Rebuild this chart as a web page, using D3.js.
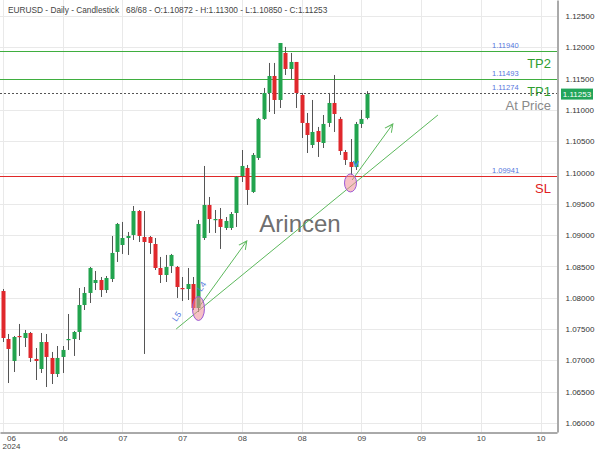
<!DOCTYPE html>
<html>
<head>
<meta charset="utf-8">
<script src="https://cdn.jsdelivr.net/npm/d3@7"></script>
<style>
  body{margin:0;background:#fff}
  text{font-family:"Liberation Sans",Arial,sans-serif}
</style>
</head>
<body>
<svg id="chart" width="600" height="450"></svg>
<script>
// EURUSD daily, 68 candles
opens = [1.08108,1.07342,1.06991,1.07390,1.07358,1.07438,1.07023,1.06863,1.07294,1.07039,
  1.06783,1.07055,1.07326,1.07342,1.07454,1.07885,1.08077,1.08236,1.08284,1.08124,
  1.08300,1.08732,1.08843,1.08955,1.09003,1.09386,1.08971,1.08971,1.08859,1.08476,
  1.08364,1.08508,1.08492,1.08156,1.08140,1.08220,1.07837,1.08955,1.09482,1.09243,
  1.09258,1.09115,1.09115,1.09354,1.09945,1.10073,1.09690,1.10233,1.10856,1.11271,
  1.11542,1.11159,1.11910,1.11654,1.11766,1.11239,1.10792,1.10440,1.10664,1.10472,
  1.10792,1.11111,1.10856,1.10328,1.10169,1.10089,1.10776,1.10872]
highs = [1.08140,1.07422,1.07390,1.07582,1.07486,1.07454,1.07198,1.07438,1.07422,1.07135,
  1.07230,1.07230,1.07741,1.07470,1.08156,1.08172,1.08492,1.08428,1.08332,1.08348,
  1.08987,1.09195,1.09211,1.09051,1.09466,1.09402,1.09386,1.08987,1.08955,1.08652,
  1.08684,1.08700,1.08508,1.08332,1.08476,1.08332,1.09243,1.10105,1.09610,1.09402,
  1.09434,1.09290,1.09370,1.09945,1.10360,1.10121,1.10312,1.10872,1.11351,1.11750,
  1.11750,1.12069,1.12006,1.11910,1.11766,1.11271,1.10951,1.11159,1.10728,1.10919,
  1.11271,1.11558,1.10888,1.10360,1.10536,1.10808,1.10999,1.11300]
lows = [1.07294,1.06639,1.06815,1.07071,1.07214,1.06975,1.06687,1.06799,1.06575,1.06623,
  1.06735,1.06799,1.07167,1.07071,1.07326,1.07805,1.07917,1.08124,1.08013,1.08077,
  1.08252,1.08572,1.08700,1.08684,1.08923,1.08891,1.07103,1.08700,1.08444,1.08236,
  1.08252,1.08396,1.07997,1.07949,1.07965,1.07805,1.07773,1.08923,1.09035,1.09035,
  1.08780,1.09083,1.09083,1.09131,1.09849,1.09482,1.09674,1.10201,1.10840,1.10967,
  1.10935,1.11031,1.11558,1.11494,1.11031,1.10552,1.10312,1.10392,1.10249,1.10392,
  1.10728,1.10648,1.10281,1.10121,1.09961,1.10041,1.10712,1.10850]
closes = [1.07358,1.07183,1.07374,1.07374,1.07438,1.07039,1.06991,1.07294,1.07055,1.06783,
  1.07039,1.07167,1.07342,1.07454,1.07885,1.08077,1.08476,1.08284,1.08124,1.08316,
  1.08716,1.09179,1.08955,1.08987,1.09386,1.08987,1.08891,1.08875,1.08476,1.08364,
  1.08492,1.08684,1.08172,1.08140,1.08220,1.07837,1.09179,1.09482,1.09258,1.09258,
  1.09131,1.09227,1.09338,1.09929,1.10105,1.09722,1.10281,1.10856,1.11271,1.11542,
  1.11159,1.12069,1.11654,1.11766,1.11271,1.10792,1.10600,1.10648,1.10488,1.10776,
  1.11111,1.10935,1.10344,1.10201,1.10089,1.10776,1.10856,1.11253]

yTicks = [1.06,1.065,1.07,1.075,1.08,1.085,1.09,1.095,1.10,1.105,1.11,1.115,1.12,1.125]
xTickIdx = [0,11,22,33,44,55,66,77,88,99]
xTickLabels = ["06","06","07","07","08","08","09","09","10","10"]

levelValues = [1.11940, 1.11493, 1.11274, 1.09941]
levelNames = ["TP2", "TP1", "At Price", "SL"]

// annotations, in candle index / price
trendLine = [[31.9, 1.07502], [80.1, 1.10919]]
arrows = [[[36.1, 1.07853], [44.9, 1.08907]], [[64.3, 1.09881], [71.8, 1.10776]]]
circles = [[36, 1.07829, 6, 12], [64, 1.09834, 6, 9]]
waveLabels = [["L5", 32.4, 1.07677], ["L4", 37.0, 1.08156]]

svg = d3.select("#chart")
W = 557, H = 432

x = d3.scaleLinear().domain([-0.55, 102.03]).range([0, W])
y = d3.scaleLinear().domain([1.058568, 1.127555]).range([H, 0])

candles = opens.map((o,i) => ({i:i, o:o, h:highs[i], l:lows[i], c:closes[i]}))

/* grid */
grid = svg.append("g")
grid.selectAll(".hg").data(yTicks).enter().append("line")
  .attr("x1",0).attr("x2",W)
  .attr("y1",d => Math.round(y(d))+0.5).attr("y2",d => Math.round(y(d))+0.5)
  .attr("stroke","#e9e9e9")
grid.selectAll(".vg").data(xTickIdx).enter().append("line")
  .attr("x1",d => Math.round(x(d))+0.5).attr("x2",d => Math.round(x(d))+0.5)
  .attr("y1",0).attr("y2",H)
  .attr("stroke","#e9e9e9")

/* header */
svg.append("text").attr("x",8).attr("y",13)
  .attr("font-size","8.3px").attr("fill","#444")
  .attr("xml:space","preserve")
  .text("EURUSD - Daily - Candlestick   68/68 - O:1.10872 - H:1.11300 - L:1.10850 - C:1.11253")

/* watermark */
svg.append("text").attr("x",300).attr("y",232)
  .attr("text-anchor","middle").attr("font-size","24px")
  .attr("fill","#6f6f6f").text("Arincen")

/* level lines */
levelColor = ["#3fae3f","#3fae3f","#555","#e02828"]
nameColor = ["#2f9e2f","#2f9e2f","#8a8a8a","#e02020"]
levels = svg.append("g")
levelValues.forEach(function(v,k){
  yy = Math.round(y(v))+0.5
  ln = levels.append("line").attr("x1",0).attr("x2",W).attr("y1",yy).attr("y2",yy)
    .attr("stroke",levelColor[k]).attr("stroke-width",1)
  if(levelNames[k]=="At Price") ln.attr("stroke-dasharray","2,2")
  levels.append("text").attr("x",492).attr("y",yy-3.5)
    .attr("font-size","7.5px").attr("fill","#5577dd").text(v.toFixed(5))
  levels.append("text").attr("x",551).attr("y",yy+16)
    .attr("text-anchor","end").attr("font-size","13px")
    .attr("fill",nameColor[k]).text(levelNames[k])
})

/* candles */
cg = svg.append("g")
cg.selectAll(".wick").data(candles).enter().append("line")
  .attr("x1",d => Math.round(x(d.i))+0.5).attr("x2",d => Math.round(x(d.i))+0.5)
  .attr("y1",d => y(d.h)).attr("y2",d => y(d.l))
  .attr("stroke","#555").attr("stroke-width",1)
cg.selectAll(".body").data(candles).enter().append("rect")
  .attr("x",d => Math.round(x(d.i))-1.5)
  .attr("width",4)
  .attr("y",d => y(Math.max(d.o,d.c)))
  .attr("height",d => Math.max(1.2, Math.abs(y(d.o)-y(d.c))))
  .attr("fill",d => d.c >= d.o ? "#22a44e" : "#e0282c")

/* trend line + arrows */
svg.append("defs").append("marker").attr("id","ah")
  .attr("markerUnits","userSpaceOnUse").attr("markerWidth",12).attr("markerHeight",12)
  .attr("refX",9).attr("refY",5).attr("orient","auto")
  .append("path").attr("d","M1,1L9,5L1,9").attr("fill","none")
  .attr("stroke","#5cb85c").attr("stroke-width",1)

line = d3.line().x(d => x(d[0])).y(d => y(d[1]))
svg.append("path").attr("d",line(trendLine)).attr("fill","none")
  .attr("stroke","#5cb85c").attr("stroke-width",1)
arrows.forEach(function(a){
  svg.append("path").attr("d",line(a)).attr("fill","none")
    .attr("stroke","#5cb85c").attr("stroke-width",1).attr("marker-end","url(#ah)")
})

/* circles at the wave points */
svg.selectAll(".pt").data(circles).enter().append("ellipse")
  .attr("cx",d => x(d[0])).attr("cy",d => y(d[1]))
  .attr("rx",d => d[2]).attr("ry",d => d[3])
  .attr("fill","rgba(240,140,150,0.55)").attr("stroke","#9b59d6").attr("stroke-width",1)

waveLabels.forEach(function(w){
  svg.append("text").attr("transform","translate("+x(w[1])+","+y(w[2])+") rotate(-55)")
    .attr("text-anchor","middle").attr("font-size","8.5px").attr("fill","#5577dd").text(w[0])
})

// little blue marker under candle 66
mx = x(65), my = y(lows[65])
svg.append("path").attr("d","M"+(mx-2.5)+","+(my-9)+"L"+mx+","+(my-4)+"L"+(mx+2.5)+","+(my-9))
  .attr("fill","none").attr("stroke","#3b8fe0").attr("stroke-width",1.5)

/* axes */
yAxis = d3.axisRight(y).tickValues(yTicks).tickSize(0).tickPadding(8)
  .tickFormat(d3.format(".5f"))
ya = svg.append("g").attr("transform","translate("+(W+0.5)+",0)").call(yAxis)
ya.select(".domain").attr("stroke","#555")
ya.selectAll("text").attr("font-size","8px").attr("fill","#333")
  .attr("font-family","Liberation Sans, Arial, sans-serif")

xAxis = d3.axisBottom(x).tickValues(xTickIdx).tickSize(0).tickSizeOuter(0).tickPadding(3)
  .tickFormat((d,i) => xTickLabels[i])
xa = svg.append("g").attr("transform","translate(0,"+(H+0.5)+")").call(xAxis)
xa.select(".domain").attr("stroke","#555")
xa.selectAll("text").attr("font-size","8px").attr("fill","#444")
  .attr("font-family","Liberation Sans, Arial, sans-serif")
first = xa.select(".tick text").attr("dx",8)
first.append("tspan").attr("x",0).attr("dx",8).attr("dy","0.95em").text("2024")

/* last price tag */
lastY = y(closes[closes.length-1])
svg.append("rect").attr("x",561).attr("y",lastY-5.5).attr("width",32).attr("height",11)
  .attr("fill","#22a55a")
svg.append("text").attr("x",577).attr("y",lastY+3).attr("text-anchor","middle")
  .attr("font-size","8px").attr("fill","#fff").text(closes[closes.length-1].toFixed(5))
</script>
</body>
</html>
